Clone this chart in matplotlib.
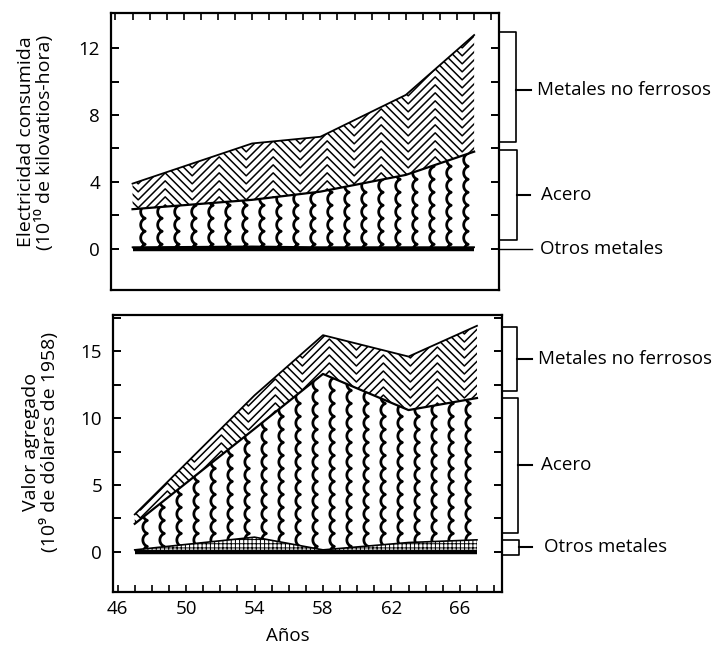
import numpy as np
import matplotlib.pyplot as plt
from matplotlib.collections import LineCollection
from matplotlib.transforms import blended_transform_factory

plt.rcParams['font.family'] = ['Open Sans', 'DejaVu Sans']
plt.rcParams['hatch.linewidth'] = 0.7

# census years
years = [47, 54, 58, 63, 67]

# electricidad consumida, 10^10 kWh
elec_otros = [0.10, 0.15, 0.10, 0.10, 0.10]
elec_acero = [2.27, 2.78, 3.32, 4.32, 5.71]
elec_noferrosos = [1.53, 3.37, 3.28, 4.78, 6.97]

# valor agregado, 10^9 dolares de 1958
valor_otros = [0.15, 1.10, 0.15, 0.70, 0.90]
valor_acero = [1.95, 8.10, 13.15, 9.90, 10.60]
valor_noferrosos = [0.70, 2.50, 2.90, 4.00, 5.40]

FS = 13.5


def zigzag(ax, poly, period=54, step=8, lw=1.1):
    # nested V lines clipped to the area
    w, h = ax.bbox.width, ax.bbox.height
    xs = np.arange(-period, w + period, period / 2)
    offs = np.where(np.arange(len(xs)) % 2 == 0, period / 2, 0)
    segs = []
    for y0 in np.arange(-period, h + period, step):
        segs.append(np.column_stack([xs / w, (y0 + offs) / h]))
    lc = LineCollection(segs, colors='black', linewidths=lw, transform=ax.transAxes)
    lc.set_clip_path(poly.get_paths()[0], ax.transData)
    ax.add_collection(lc, autolim=False)


def scallops(ax, poly, dx=17, period=13, bulge=4.5, lw=2.0):
    # vertical columns of circular arcs, cusps to the right
    w, h = ax.bbox.width, ax.bbox.height
    half = period / 2
    r = (half ** 2 + bulge ** 2) / (2 * bulge)
    s = np.linspace(-half, half, 15)
    arc = np.sqrt(r ** 2 - s ** 2) - (r - bulge)
    segs = []
    for x0 in np.arange(0, w + dx, dx):
        xs, ys = [], []
        for yc in np.arange(-period, h + period, period):
            ys.extend(yc + s)
            xs.extend(x0 - arc)
        segs.append(np.column_stack([np.array(xs) / w, np.array(ys) / h]))
    lc = LineCollection(segs, colors='black', linewidths=lw, transform=ax.transAxes)
    lc.set_clip_path(poly.get_paths()[0], ax.transData)
    ax.add_collection(lc, autolim=False)


def bracket(ax, y0, y1, xb, ytick, xt, label, xl):
    tr = blended_transform_factory(ax.transAxes, ax.transData)
    ax.plot([1, xb, xb, 1], [y1, y1, y0, y0], color='black', lw=1.2,
            transform=tr, clip_on=False)
    ax.plot([xb, xt], [ytick, ytick], color='black', lw=1.5,
            transform=tr, clip_on=False)
    ax.text(xl, ytick, label, transform=tr, ha='left', va='center', fontsize=FS)


def stack(ax, otros, acero, noferr, otros_hatch):
    otros = np.array(otros)
    cum = otros + np.array(acero)
    tot = cum + np.array(noferr)
    p_nf = ax.fill_between(years, cum, tot, facecolor='white', edgecolor='none')
    zigzag(ax, p_nf)
    p_ac = ax.fill_between(years, otros, cum, facecolor='white', edgecolor='none')
    scallops(ax, p_ac)
    if otros_hatch:
        ax.fill_between(years, 0, otros, facecolor='white', edgecolor='black',
                        hatch='++++', linewidth=0)
    else:
        ax.fill_between(years, 0, otros, facecolor='black', edgecolor='none')
    ax.plot(years, tot, color='black', lw=1.3)
    ax.plot(years, cum, color='black', lw=1.6)
    ax.plot(years, otros, color='black', lw=1.2)
    ax.plot([years[0], years[-1]], [0, 0], color='black', lw=3.2,
            solid_capstyle='butt')


def frame(ax):
    for s in ax.spines.values():
        s.set_linewidth(1.6)
    ax.set_xlim(45.75, 68.45)
    ax.set_xticks(range(46, 67, 4))
    ax.set_xticks(range(46, 69), minor=True)
    ax.tick_params(axis='both', which='both', direction='in', labelsize=FS)
    ax.tick_params(axis='y', which='both', left=True, right=True,
                   length=6, width=1.4, pad=8)
    ax.tick_params(axis='x', which='both', length=5, width=1.2, pad=6)


fig = plt.figure(figsize=(7.22, 6.47), dpi=100)
ax1 = fig.add_axes([0.154, 0.552, 0.537, 0.428])
ax2 = fig.add_axes([0.157, 0.085, 0.538, 0.428])

# upper panel: electricity
stack(ax1, elec_otros, elec_acero, elec_noferrosos, otros_hatch=False)
frame(ax1)
ax1.set_ylim(-2.45, 14.1)
ax1.set_yticks([0, 4, 8, 12])
ax1.set_yticks(range(0, 14, 2), minor=True)
ax1.tick_params(axis='x', which='both', top=True, bottom=False, labelbottom=False)
bracket(ax1, 6.4, 12.97, 1.044, 9.5, 1.082, 'Metales no ferrosos', 1.098)
bracket(ax1, 0.5, 5.9, 1.046, 3.2, 1.080, 'Acero', 1.108)
tr1 = blended_transform_factory(ax1.transAxes, ax1.transData)
ax1.plot([1, 1.085], [0, 0], color='black', lw=1.0, transform=tr1, clip_on=False)
ax1.text(1.106, 0, 'Otros metales', transform=tr1, ha='left', va='center', fontsize=FS)

# lower panel: value added
stack(ax2, valor_otros, valor_acero, valor_noferrosos, otros_hatch=True)
frame(ax2)
ax2.set_ylim(-3.0, 17.7)
ax2.set_yticks([0, 5, 10, 15])
ax2.set_yticks(np.arange(0, 17.6, 2.5), minor=True)
ax2.tick_params(axis='x', which='both', top=False, bottom=True)
bracket(ax2, 12.0, 16.8, 1.040, 14.45, 1.077, 'Metales no ferrosos', 1.093)
bracket(ax2, 1.39, 11.47, 1.041, 6.5, 1.077, 'Acero', 1.100)
bracket(ax2, -0.22, 0.9, 1.044, 0.35, 1.077, 'Otros metales', 1.108)

fig.text(36 / 722, 1 - 142 / 647, 'Electricidad consumida\n(10¹⁰ de kilovatios-hora)',
         rotation=90, ha='center', va='center', fontsize=14, linespacing=1.0)
fig.text(41 / 722, 1 - 442 / 647, 'Valor agregado\n(10⁹ de dólares de 1958)',
         rotation=90, ha='center', va='center', fontsize=14, linespacing=1.0)
fig.text(288 / 722, 0.003, 'Años', ha='center', va='bottom', fontsize=FS)

fig.savefig('out.png', dpi=100)
